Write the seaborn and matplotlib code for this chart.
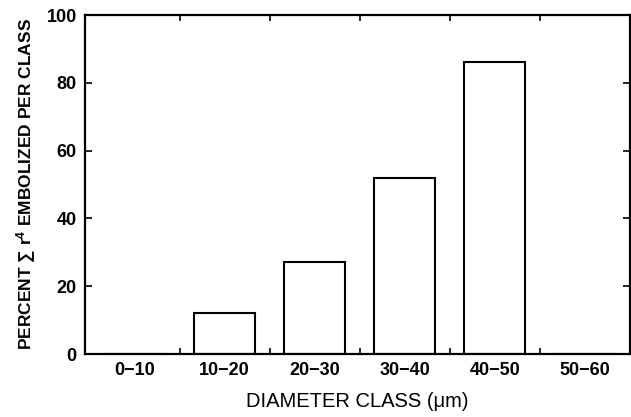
import numpy as np
import pandas as pd
import seaborn as sns
import matplotlib
matplotlib.use("Agg")
import matplotlib.pyplot as plt
from matplotlib.ticker import FixedLocator

# dados
classes = ['0-10', '10-20', '20-30', '30-40', '40-50', '50-60']
percentual = [0, 12, 27, 52, 86, 0]
yticks = [0, 20, 40, 60, 80, 100]

df = pd.DataFrame({'classe': classes, 'percentual': percentual})

sns.set_style('ticks')
plt.rcParams['font.family'] = ['Liberation Sans', 'DejaVu Sans']
plt.rcParams['text.color'] = 'black'
plt.rcParams['axes.labelcolor'] = 'black'
plt.rcParams['xtick.color'] = 'black'
plt.rcParams['ytick.color'] = 'black'
plt.rcParams['mathtext.fontset'] = 'custom'
plt.rcParams['mathtext.rm'] = 'Liberation Sans:bold'
plt.rcParams['mathtext.it'] = 'Liberation Sans:bold'
plt.rcParams['mathtext.bf'] = 'Liberation Sans:bold'

fig = plt.figure(figsize=(6.31, 4.17), dpi=100)
ax = fig.add_axes([0.135, 0.151, 0.863, 0.813])

sns.barplot(data=df, x='classe', y='percentual', color='white', edgecolor='black',
            linewidth=1.5, width=0.68, ax=ax)

ax.set_xlim(-0.55, 5.5)
ax.set_ylim(0, 100)
ax.set_yticks(yticks)
ax.set_yticklabels([str(v) for v in yticks], fontweight='bold', fontsize=13)
ax.set_xticks(range(len(classes)))
ax.set_xticklabels([c.replace('-', '\u2212') for c in classes], fontweight='bold', fontsize=13)
ax.xaxis.set_minor_locator(FixedLocator([i + 0.5 for i in range(5)]))

ax.tick_params(axis='x', which='major', length=0, pad=6)
ax.tick_params(axis='x', which='minor', direction='in', length=4, width=1.2, top=True, bottom=True)
ax.tick_params(axis='y', direction='in', length=5, width=1.2, left=True, right=True, pad=6)

for s in ax.spines.values():
    s.set_visible(True)
    s.set_linewidth(1.6)
    s.set_color('black')

ax.set_xlabel('DIAMETER CLASS (\u03bcm)', fontsize=14.5, labelpad=9)
ax.set_ylabel('PERCENT $\\sum$ r$^{4}$ EMBOLIZED PER CLASS', fontsize=12.5, fontweight='bold', labelpad=6)

fig.savefig('out.png', dpi=100)
